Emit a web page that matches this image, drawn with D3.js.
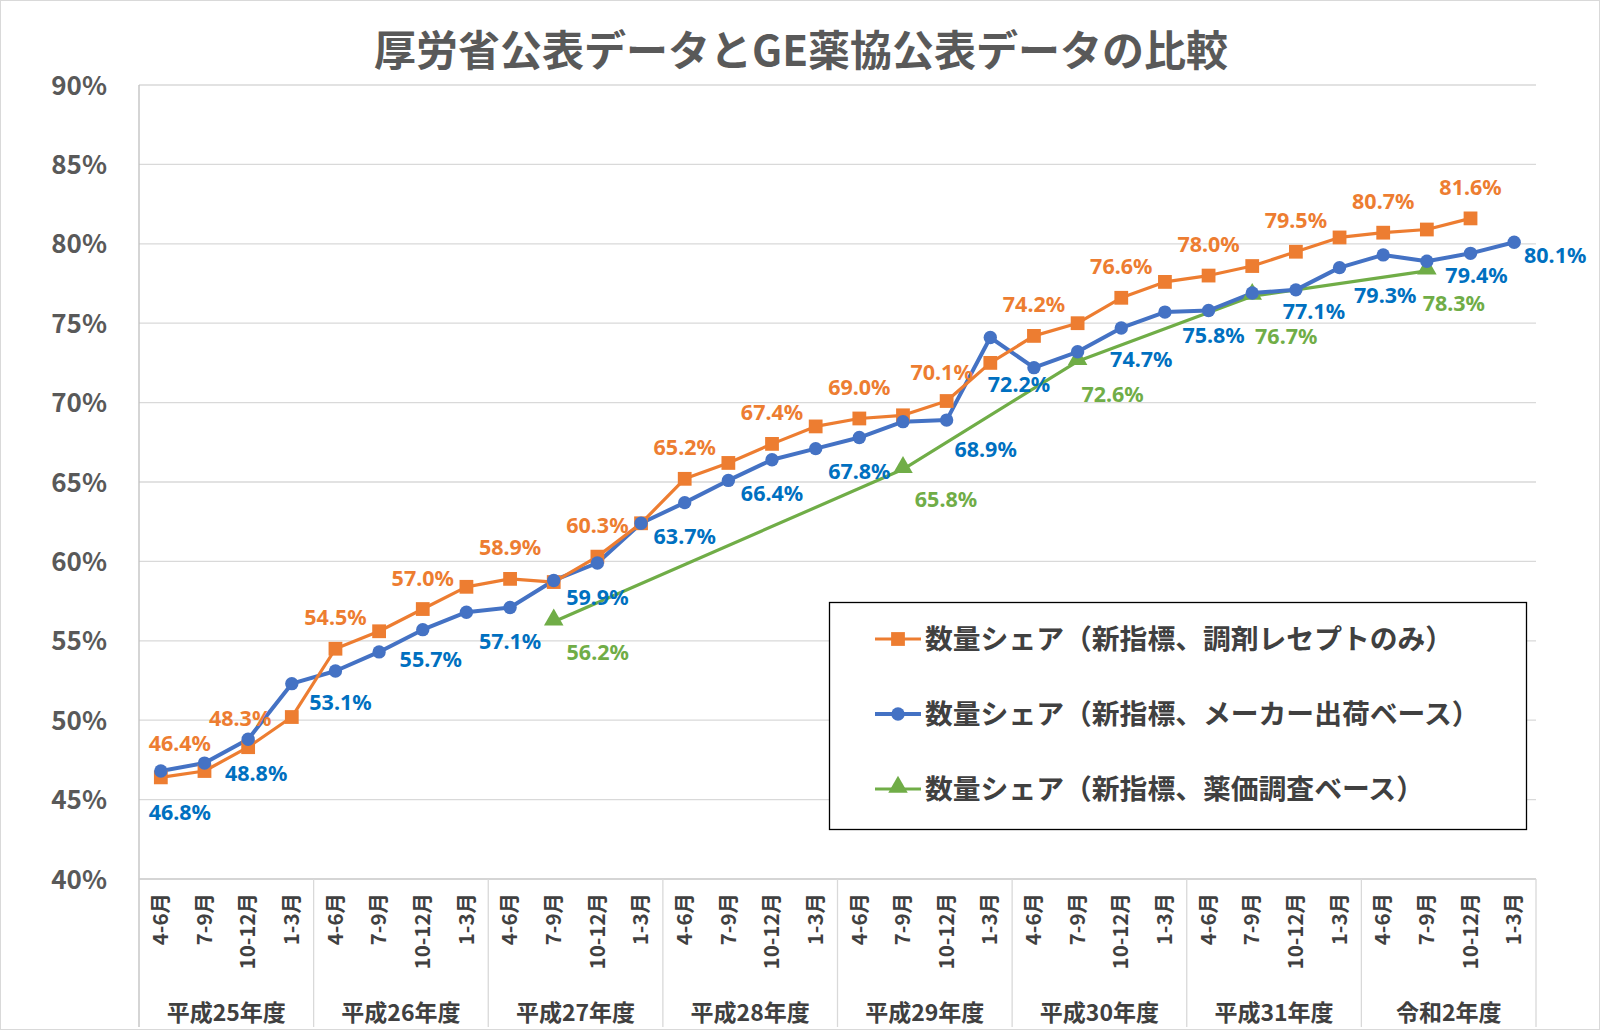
<!DOCTYPE html>
<html><head><meta charset="utf-8">
<script src="https://cdn.jsdelivr.net/npm/d3@7"></script>
<style>
html,body{margin:0;padding:0;background:#fff;}
svg{display:block;font-family:"Noto Sans CJK JP","Noto Sans",sans-serif;}
</style></head>
<body>
<svg id="chart" width="1600" height="1030"></svg>
<script>
// ---- data ----
const quarters = ["4-6月", "7-9月", "10-12月", "1-3月"];
const fiscalYears = ["平成25年度", "平成26年度", "平成27年度", "平成28年度", "平成29年度", "平成30年度", "平成31年度", "令和2年度"];
const yTicks = [40, 45, 50, 55, 60, 65, 70, 75, 80, 85, 90];
const seriesNames = [
  "数量シェア（新指標、調剤レセプトのみ）",
  "数量シェア（新指標、メーカー出荷ベース）",
  "数量シェア（新指標、薬価調査ベース）"
];
const receiptShare = [46.4, 46.8, 48.3, 50.2, 54.5, 55.6, 57.0, 58.4, 58.9, 58.7, 60.3, 62.4, 65.2, 66.2, 67.4, 68.5,
  69.0, 69.2, 70.1, 72.5, 74.2, 75.0, 76.6, 77.6, 78.0, 78.6, 79.5, 80.4, 80.7, 80.9, 81.6, null];
const makerShare = [46.8, 47.3, 48.8, 52.3, 53.1, 54.3, 55.7, 56.8, 57.1, 58.8, 59.9, 62.4, 63.7, 65.1, 66.4, 67.1,
  67.8, 68.8, 68.9, 74.1, 72.2, 73.2, 74.7, 75.7, 75.8, 76.9, 77.1, 78.5, 79.3, 78.9, 79.4, 80.1];
const priceSurveyShare = [null, null, null, null, null, null, null, null, null, 56.2, null, null, null, null, null, null,
  null, 65.8, null, null, null, 72.6, null, null, null, 76.7, null, null, null, 78.3, null, null];
const receiptLabelIdx = [0, 2, 4, 6, 8, 10, 12, 14, 16, 18, 20, 22, 24, 26, 28, 30];
const makerLabelIdx = [0, 2, 4, 6, 8, 10, 12, 14, 16, 18, 20, 22, 24, 26, 28, 30, 31];
const surveyLabelIdx = [9, 17, 21, 25, 29];

// ---- label nudges (styling only, px) ----
const receiptNudge = {0: [19, -34], 2: [-8, -29], 18: [-5, -29]};
const receiptNudgeDefault = [0, -31];
const makerNudge = {0: [19, 41], 2: [8, 34], 4: [5, 32], 6: [8, 30], 18: [39, 29], 20: [-15, 17], 22: [20, 32],
  24: [5, 25], 26: [18, 22], 28: [2, 41], 30: [6, 22], 31: [41, 13]};
const makerNudgeDefault = [0, 34];
const surveyNudge = {9: [44, 31], 17: [43, 30], 21: [35, 33], 25: [34, 40], 29: [27, 33]};

const C_OR = "#ED7D31", C_BL = "#4472C4", C_BLT = "#0070C0", C_GR = "#70AD47";

const svg = d3.select("#chart");
const W = 1600, H = 1030;
const plot = {left: 139, right: 1536, top: 85, bottom: 879};

// outer border
svg.append("rect").attr("x", 0.5).attr("y", 0.5).attr("width", W - 1).attr("height", H - 1)
  .attr("fill", "#fff").attr("stroke", "#d9d9d9");

const categories = [];
fiscalYears.forEach(fy => quarters.forEach(q => categories.push(fy + "|" + q)));

const x = d3.scaleBand().domain(categories).range([plot.left, plot.right]);
const y = d3.scaleLinear().domain([40, 90]).range([plot.bottom, plot.top]);
const cx = i => x(categories[i]) + x.bandwidth() / 2;

// gridlines
svg.append("g").selectAll("line").data(yTicks).join("line")
  .attr("x1", plot.left).attr("x2", plot.right)
  .attr("y1", d => y(d)).attr("y2", d => y(d))
  .attr("stroke", "#d9d9d9").attr("stroke-width", 1.3);

// y axis labels
const yAxis = d3.axisLeft(y).tickValues(yTicks).tickFormat(d => d + "%").tickSize(0).tickPadding(0);
const gy = svg.append("g").attr("transform", `translate(${107},0)`).call(yAxis);
gy.select(".domain").remove();
gy.selectAll("text").attr("font-size", 26).attr("font-weight", 700).attr("fill", "#595959")
  .attr("font-family", "'Noto Sans CJK JP',sans-serif").attr("dy", "0.35em").attr("x", 0);

// left axis line and bottom axis line
svg.append("line").attr("x1", plot.left).attr("x2", plot.left).attr("y1", plot.top).attr("y2", H - 3)
  .attr("stroke", "#bfbfbf").attr("stroke-width", 1.3);
svg.append("line").attr("x1", plot.left).attr("x2", plot.right).attr("y1", plot.bottom).attr("y2", plot.bottom)
  .attr("stroke", "#d0d0d0").attr("stroke-width", 1.3);

// x axis quarter labels
const gx = svg.append("g").attr("transform", `translate(0,${plot.bottom})`)
  .call(d3.axisBottom(x).tickFormat(d => d.split("|")[1]).tickSize(0).tickPadding(0));
gx.select(".domain").remove();
gx.selectAll("text").attr("font-size", 20.5).attr("font-weight", 700).attr("fill", "#404040")
  .attr("font-family", "'Noto Sans CJK JP',sans-serif")
  .attr("text-anchor", "end").attr("transform", "translate(0,14) rotate(-90)")
  .attr("x", 0).attr("y", 0).attr("dy", "0.35em");

// group separators and group labels
const groupBounds = fiscalYears.map((fy, i) => [x(fy + "|" + quarters[0]), x(fy + "|" + quarters[3]) + x.bandwidth()]);
svg.append("g").selectAll("line").data(groupBounds.map(d => d[1])).join("line")
  .attr("x1", d => d).attr("x2", d => d).attr("y1", plot.bottom).attr("y2", H - 3)
  .attr("stroke", "#d9d9d9").attr("stroke-width", 1.3);
svg.append("g").selectAll("text").data(fiscalYears).join("text")
  .attr("x", (d, i) => (groupBounds[i][0] + groupBounds[i][1]) / 2)
  .attr("y", 1013).attr("dy", "0.35em").attr("text-anchor", "middle")
  .attr("font-size", 23).attr("font-weight", 700).attr("fill", "#404040")
  .text(d => d);

// title
svg.append("text").attr("x", 801).attr("y", 51).attr("dy", "0.35em").attr("text-anchor", "middle")
  .attr("font-size", 42).attr("font-weight", 700).attr("fill", "#595959")
  .text("厚労省公表データとGE薬協公表データの比較");

// lines
function pts(arr) { return arr.map((v, i) => ({i, v})).filter(d => d.v !== null); }
const line = d3.line().x(d => cx(d.i)).y(d => y(d.v));

svg.append("path").datum(pts(priceSurveyShare)).attr("d", line)
  .attr("fill", "none").attr("stroke", C_GR).attr("stroke-width", 3.2).attr("stroke-linejoin", "round");
svg.append("path").datum(pts(makerShare)).attr("d", line)
  .attr("fill", "none").attr("stroke", C_BL).attr("stroke-width", 4).attr("stroke-linejoin", "round");
svg.append("path").datum(pts(receiptShare)).attr("d", line)
  .attr("fill", "none").attr("stroke", C_OR).attr("stroke-width", 3.2).attr("stroke-linejoin", "round");

const sqSym = d3.symbol().type(d3.symbolSquare).size(190);
const ciSym = d3.symbol().type(d3.symbolCircle).size(140);
const trSym = d3.symbol().type(d3.symbolTriangle).size(165);

svg.append("g").selectAll("path").data(pts(priceSurveyShare)).join("path")
  .attr("d", trSym).attr("transform", d => `translate(${cx(d.i)},${y(d.v) - 2})`).attr("fill", C_GR);
svg.append("g").selectAll("path").data(pts(receiptShare)).join("path")
  .attr("d", sqSym).attr("transform", d => `translate(${cx(d.i)},${y(d.v)})`).attr("fill", C_OR);
svg.append("g").selectAll("path").data(pts(makerShare)).join("path")
  .attr("d", ciSym).attr("transform", d => `translate(${cx(d.i)},${y(d.v)})`).attr("fill", C_BL);

// data labels
function labels(arr, idx, nudge, def, color) {
  svg.append("g").selectAll("text").data(idx).join("text")
    .attr("x", i => cx(i) + (nudge[i] || def)[0])
    .attr("y", i => y(arr[i]) + (nudge[i] || def)[1])
    .attr("dy", "0.35em").attr("text-anchor", "middle")
    .attr("font-family", "'Noto Sans',sans-serif")
    .attr("font-size", 21.5).attr("font-weight", 700).attr("fill", color)
    .text(i => arr[i].toFixed(1) + "%");
}
labels(receiptShare, receiptLabelIdx, receiptNudge, receiptNudgeDefault, C_OR);
labels(makerShare, makerLabelIdx, makerNudge, makerNudgeDefault, C_BLT);
labels(priceSurveyShare, surveyLabelIdx, surveyNudge, [30, 30], C_GR);

// legend
const lg = svg.append("g");
lg.append("rect").attr("x", 829.5).attr("y", 602.5).attr("width", 697).attr("height", 227)
  .attr("fill", "#fff").attr("stroke", "#000").attr("stroke-width", 1.3);
const legendItems = [
  {name: seriesNames[0], color: C_OR, sym: sqSym, w: 3.2},
  {name: seriesNames[1], color: C_BL, sym: ciSym, w: 4},
  {name: seriesNames[2], color: C_GR, sym: trSym, w: 3.2}
];
const legY = d3.scalePoint().domain(d3.range(legendItems.length)).range([639, 789]);
legendItems.forEach((it, k) => {
  const yy = legY(k);
  lg.append("line").attr("x1", 875).attr("x2", 921).attr("y1", yy).attr("y2", yy)
    .attr("stroke", it.color).attr("stroke-width", it.w);
  lg.append("path").attr("d", it.sym).attr("transform", `translate(898,${yy - (k === 2 ? 2 : 0)})`).attr("fill", it.color);
  lg.append("text").attr("x", 925).attr("y", yy).attr("dy", "0.35em")
    .attr("font-size", 27.8).attr("font-weight", 700).attr("fill", "#404040").text(it.name);
});
</script>
</body></html>
